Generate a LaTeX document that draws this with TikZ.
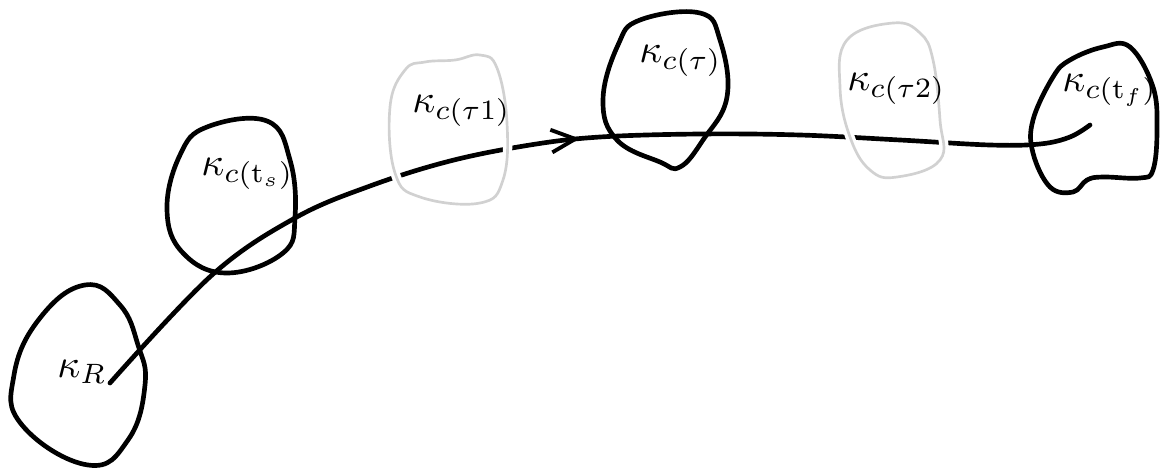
\documentclass[tikz,border=0pt]{standalone}
\usetikzlibrary{arrows.meta,decorations.markings}
\newcommand{\biglbl}[1]{\scalebox{3.0}{$#1$}}
\tikzset{
  blob/.style={line width=3.5pt, line join=round},
  ghost/.style={line width=2pt, draw=black!18, preaction={draw=white, line width=7pt}},
  lbl/.style={inner sep=0pt, anchor=base west},
  pathline/.style={line width=3.5pt, line cap=round,
    postaction={decorate, decoration={markings,
      mark=at position 0.515 with {\arrow[line width=2.9pt]{Straight Barb[length=18pt,width=17pt]}}}}}
}
\begin{document}
\begin{tikzpicture}[x=0.75pt,y=-0.75pt]
\useasboundingbox (0,0) rectangle (1164,468);
% trajectory
\coordinate (start) at (110,383);
\coordinate (finish) at (1090,125);
\draw[pathline] plot[smooth, tension=0.6] coordinates {(start) (212,275) (295,218) (370,186) (450,161) (530,145) (600,137) (700,134) (800,135) (900,140) (990,145) (1040,144) (1070,137) (finish)};
% black blobs
\draw[blob] plot[smooth cycle, tension=0.75] coordinates {(85,285) (40,318) (14,375) (22,425) (88,465) (128,440) (145,385) (138,345) (120,305)};
\draw[blob] plot[smooth cycle, tension=0.7] coordinates {(207,127) (267,121) (290,160) (295,217) (283,253) (227,273) (183,253) (167,210) (180,155)};
\draw[blob] plot[smooth cycle, tension=0.7] coordinates {(640,20) (700,13) (720,40) (727,97) (703,140) (680,167) (660,162) (617,140) (603,100) (618,45)};
\draw[blob] plot[smooth cycle, tension=0.65] coordinates {(1070,60) (1103,47) (1130,47) (1153,87) (1157,130) (1153,170) (1140,178) (1103,177) (1087,180) (1073,192) (1050,187) (1033,153) (1033,120) (1053,77)};
% grey blobs
\draw[ghost] plot[smooth cycle, tension=0.7] coordinates {(405,70) (425,62) (455,60) (480,55) (497,68) (507,123) (503,180) (480,203) (420,197) (395,173) (390,107)};
\draw[ghost] plot[smooth cycle, tension=0.7] coordinates {(893,23) (920,33) (933,60) (940,120) (940,160) (897,177) (870,170) (850,137) (840,87) (847,40)};
% labels
\node[lbl] (kR) at (57,377) {\biglbl{\kappa_R}};
\node[lbl] (kts) at (201,175) {\biglbl{\kappa_{c(\mathrm{t}_s)}}};
\node[lbl] (kt1) at (412,112) {\biglbl{\kappa_{c(\tau 1)}}};
\node[lbl] (kt) at (639,62) {\biglbl{\kappa_{c(\tau)}}};
\node[lbl] (kt2) at (847,90) {\biglbl{\kappa_{c(\tau 2)}}};
\node[lbl] (ktf) at (1062,91) {\biglbl{\kappa_{c(\mathrm{t}_f)}}};
\end{tikzpicture}
\end{document}
